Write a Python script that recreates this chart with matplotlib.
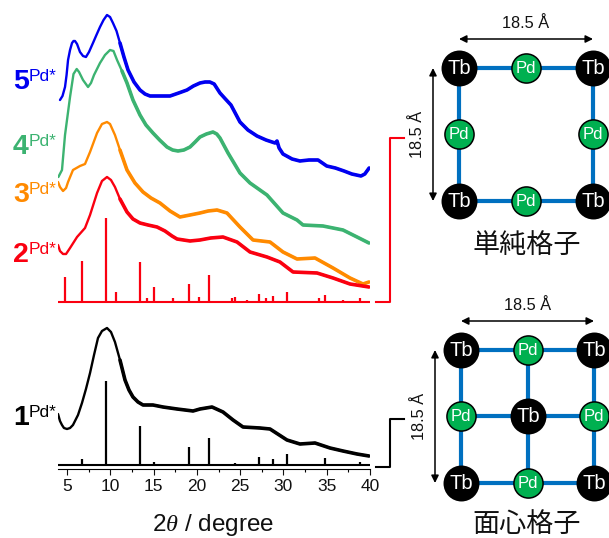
import numpy as np
import matplotlib
matplotlib.use("Agg")
import matplotlib.pyplot as plt

plt.rcParams["font.family"] = ["Liberation Sans", "Noto Sans CJK JP", "DejaVu Sans"]
plt.rcParams["mathtext.fontset"] = "custom"
plt.rcParams["mathtext.it"] = "Liberation Serif:italic"

# PXRD curves, 2theta and offset intensity
blue_t = [4.19, 4.48, 4.77, 4.95, 5.12, 5.35, 5.58, 5.75, 5.92, 6.16, 6.5, 6.85, 7.19, 7.54, 8.0, 8.4, 8.81, 9.22,
          9.62, 9.97, 10.31, 10.72, 11.12, 11.58, 12.05, 12.74, 13.43, 14.01, 14.59, 15.7, 16.9, 17.9, 18.86, 19.6,
          20.36, 20.94, 21.5, 22.0, 22.67, 23.3, 23.94, 24.98, 25.9, 26.95, 27.99, 29.03, 29.26, 29.5, 29.95, 31.0,
          31.9, 32.95, 34.0, 35.0, 36.0, 37.0, 37.9, 38.96, 39.4, 39.9]
blue_y = [369, 373, 382, 394, 409, 419, 426, 428, 428, 425, 417, 413, 412, 417, 426, 434, 442, 449,
          454, 452, 446, 438, 426, 412, 399, 387, 379, 375, 373, 373, 373, 376, 379, 383,
          386, 387, 387, 385, 376, 370, 364, 347, 339, 333, 329, 326, 328, 321, 315, 310,
          308, 309, 309, 303, 301, 298, 295, 293, 295, 301]
green_t = [4.0, 4.42, 4.77, 5.35, 5.75, 6.12, 6.39, 6.85, 7.43, 7.77, 8.12, 8.81, 9.39, 9.97, 10.37, 10.78, 11.35,
           11.93, 12.62, 13.43, 14.12, 14.93, 15.7, 16.55, 17.2, 17.82, 18.5, 19.21, 19.8, 20.36, 21.1, 21.86, 22.3,
           22.67, 23.6, 24.98, 26.14, 28.1, 29.95, 31.57, 32.26, 34.57, 36.88, 38.5, 39.88]
green_y = [292, 299, 334, 372, 395, 400, 397, 389, 382, 386, 394, 406, 414, 419, 418, 409, 398,
           386, 369, 354, 344, 336, 329, 322, 319, 318, 319, 322, 327, 332, 335, 337, 335,
           331, 316, 296, 286, 274, 256, 249, 244, 243, 239, 232, 226]
orange_t = [3.96, 4.19, 4.54, 4.89, 5.12, 5.69, 6.5, 7.08, 7.66, 8.47, 9.04, 9.62, 9.97, 10.54, 11.12, 11.93, 12.85,
            13.78, 14.7, 15.74, 16.9, 18.05, 19.21, 20.36, 21.3, 22.33, 23.48, 24.98, 26.49, 28.45, 29.95, 31.57,
            33.65, 35.73, 37.69, 39.19, 39.88]
orange_y = [287, 282, 278, 281, 287, 299, 303, 305, 317, 336, 345, 347, 345, 334, 319, 299, 286,
            277, 271, 266, 258, 252, 254, 256, 258, 259, 256, 242, 229, 227, 217, 210,
            211, 201, 191, 185, 187]
red_t = [3.96, 4.19, 4.54, 4.89, 5.35, 6.16, 7.08, 7.66, 8.47, 9.04, 9.62, 10.08, 10.54, 11.12, 11.93, 12.62, 13.43,
         14.35, 15.4, 16.32, 17.13, 17.71, 19.21, 20.36, 21.6, 23.02, 24.64, 26.14, 28.1, 29.6, 31.11, 33.88,
         35.73, 37.69, 39.88]
red_y = [224, 218, 215, 215, 221, 232, 241, 254, 276, 288, 292, 289, 282, 270, 257, 250, 246,
         244, 242, 238, 233, 230, 228, 229, 231, 232, 227, 217, 212, 207, 197, 196,
         191, 185, 182]
black_t = [3.96, 4.19, 4.42, 4.65, 5.0, 5.35, 5.69, 6.27, 6.73, 7.19, 7.66, 8.12, 8.58, 9.04, 9.62, 10.08, 10.54,
           11.12, 11.7, 12.16, 12.62, 13.2, 13.78, 14.93, 16.09, 17.71, 19.56, 20.36, 21.75, 23.02, 24.18, 25.33,
           27.29, 28.45, 30.41, 31.91, 33.65, 35.38, 36.88, 38.5, 39.88]
black_y = [55, 48, 44, 41, 40, 41, 44, 54, 66, 80, 96, 114, 131, 138, 141, 137, 127,
           109, 89, 79, 72, 67, 64, 64, 62, 60, 58, 60, 62, 57, 49, 42,
           41, 40, 29, 25, 26, 21, 18, 15, 13]

# simulated patterns
red_peak_t = [4.77, 6.73, 9.54, 10.66, 13.47, 14.24, 15.08, 17.2, 19.13, 20.25, 21.4, 24.06, 24.4, 25.8, 27.18, 28.0,
              28.8, 30.4, 34.1, 34.8, 36.9, 38.8]
red_peak_y = [192, 208, 251, 177, 207, 171, 182, 171, 185, 172, 194, 171, 172, 169, 175, 171,
              173, 177, 171, 174, 169, 171]
red_base = 167
black_peak_t = [6.73, 9.54, 13.47, 15.08, 19.13, 21.4, 24.4, 27.18, 28.8, 30.4, 34.8, 38.8]
black_peak_y = [10, 88, 43, 7, 22, 31, 6, 12, 10, 15, 11, 7]
black_base = 4

curves = [(blue_t, blue_y, "#0000f0", "5", 89),
          (green_t, green_y, "#3cb371", "4", 154),
          (orange_t, orange_y, "#ff8a00", "3", 202),
          (red_t, red_y, "#fa0010", "2", 262),
          (black_t, black_y, "black", "1", 425)]

# lattice schemes: corner position and spacing
simple_x = [459, 526, 593]
simple_y = [68, 134, 201]
face_x = [461, 528, 594]
face_y = [350, 416, 483]

fig = plt.figure(figsize=(6.09, 5.38), dpi=100)
ax = fig.add_axes([58 / 609, 69 / 538, 312 / 609, 469 / 538])
ax.patch.set_alpha(0)

for t, y, c, num, base in curves:
    t = np.array(t)
    y = np.array(y)
    ax.plot(t, y, color=c, lw=1.7, solid_capstyle="round", solid_joinstyle="round")
    ax.plot(t[t > 11], y[t > 11], color=c, lw=2.6, solid_capstyle="round", solid_joinstyle="round")

ax.vlines(red_peak_t, red_base, red_peak_y, color="#fa0010", lw=1.6)
ax.plot([3.96, 40], [red_base, red_base], color="#fa0010", lw=1.5)
ax.vlines(black_peak_t, black_base, black_peak_y, color="black", lw=1.6)
ax.plot([3.96, 40], [black_base, black_base], color="black", lw=1.5)

ax.set_xlim(3.96, 40)
ax.set_ylim(0, 469)
ax.set_yticks([])
for s in ["top", "left", "right"]:
    ax.spines[s].set_visible(False)
ax.spines["bottom"].set_linewidth(0.8)
ax.set_xticks(np.arange(5, 41, 5))
ax.set_xticks(np.arange(7.5, 40, 5), minor=True)
ax.tick_params(axis="x", which="major", length=4, width=0.8, labelsize=12.5, pad=3.5, colors="#111111")
ax.tick_params(axis="x", which="minor", length=2.5, width=0.8)

# everything else in pixel coordinates of the picture
ov = fig.add_axes([0, 0, 1, 1])
ov.set_xlim(0, 609)
ov.set_ylim(538, 0)
ov.axis("off")
ov.patch.set_alpha(0)

ov.text(213, 531, r"2$\theta$ / degree", fontsize=17.5, ha="center", va="baseline", color="#111111")

for t, y, c, num, base in curves:
    ov.text(13, base, num, color=c, fontsize=20.5, fontweight="bold", va="baseline")
    ov.text(29, base - 8, "Pd*", color=c, fontsize=12.5, va="baseline")

# brackets
ov.plot([376, 390, 390, 404], [302, 302, 138, 138], color="#fa0010", lw=1.5)
ov.plot([376, 390, 390, 404], [467, 467, 419, 419], color="black", lw=1.5)


def node(x, y, kind):
    if kind == "Tb":
        ov.scatter([x], [y], s=670, color="black", zorder=3, linewidths=0)
        ov.text(x, y + 0.5, "Tb", color="white", fontsize=14.5, ha="center", va="center", zorder=4)
    else:
        ov.scatter([x], [y], s=440, color="#00b050", edgecolors="black", linewidths=1.1, zorder=3)
        ov.text(x, y + 0.5, "Pd", color="white", fontsize=12, ha="center", va="center", zorder=4)


def lattice(xs, ys, centered, title, title_y):
    bond = dict(color="#0070c0", lw=3, zorder=1)
    ov.plot([xs[0], xs[2], xs[2], xs[0], xs[0]], [ys[0], ys[0], ys[2], ys[2], ys[0]], **bond)
    if centered:
        ov.plot([xs[1], xs[1]], [ys[0], ys[2]], **bond)
        ov.plot([xs[0], xs[2]], [ys[1], ys[1]], **bond)
    for i in range(3):
        for j in range(3):
            if i == 1 and j == 1:
                if centered:
                    node(xs[1], ys[1], "Tb")
            elif (i + j) % 2 == 0:
                node(xs[i], ys[j], "Tb")
            else:
                node(xs[i], ys[j], "Pd")
    arrow = dict(arrowstyle="<|-|>", color="black", lw=1.1, mutation_scale=11, shrinkA=0, shrinkB=0)
    ov.annotate("", xy=(xs[0], ys[0] - 29), xytext=(xs[2], ys[0] - 29), arrowprops=arrow)
    ov.annotate("", xy=(xs[0] - 26, ys[0]), xytext=(xs[0] - 26, ys[2]), arrowprops=arrow)
    ov.text(xs[1], ys[0] - 44, "18.5 Å", fontsize=11.8, ha="center", va="center", color="#111111")
    ov.text(xs[0] - 41, ys[1], "18.5 Å", fontsize=11.8, rotation=90, ha="center", va="center", color="#111111")
    ov.text(527, title_y, title, fontsize=19.5, ha="center", va="center", color="#111111",
            family=["Noto Sans CJK JP", "DejaVu Sans"])


lattice(simple_x, simple_y, False, "単純格子", 245)
lattice(face_x, face_y, True, "面心格子", 524)

fig.savefig("out.png", dpi=100)
